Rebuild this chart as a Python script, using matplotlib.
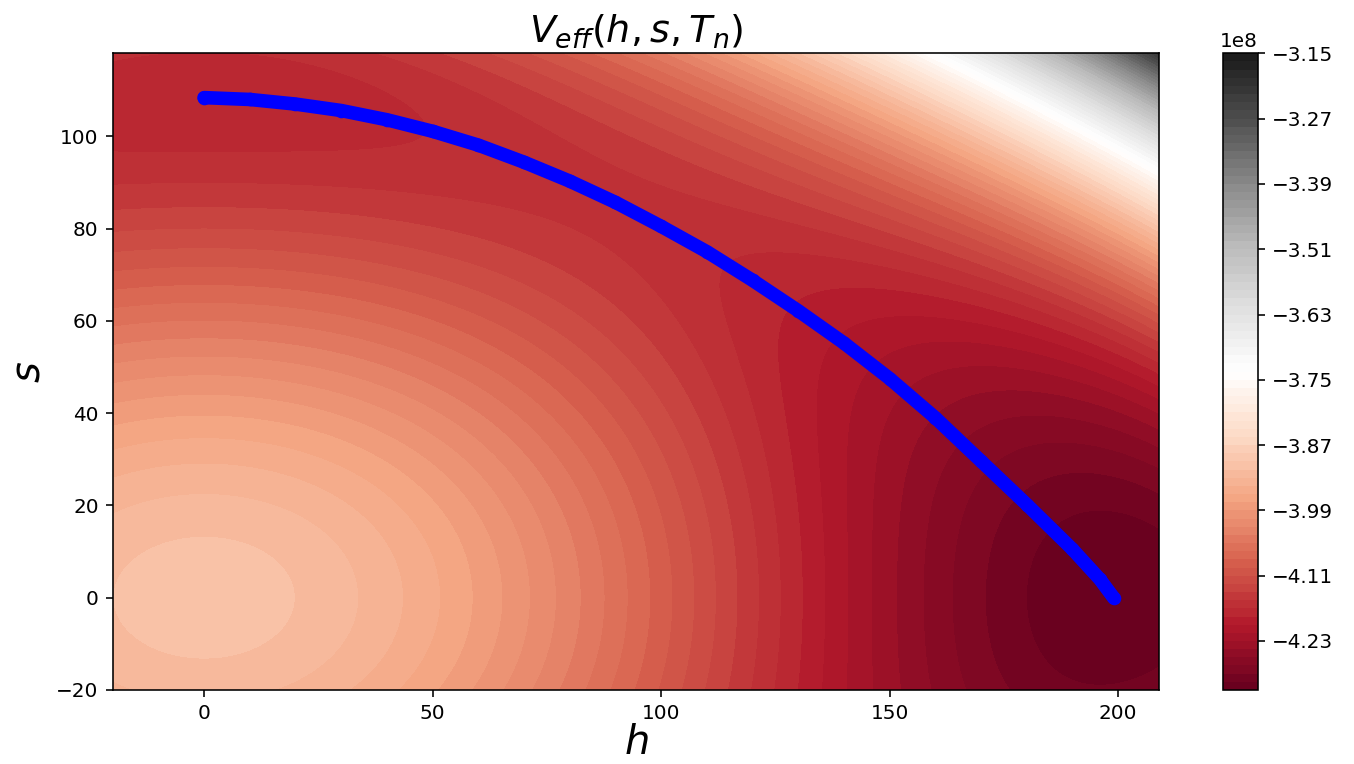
import numpy as np
import matplotlib
matplotlib.use("Agg")
import matplotlib.pyplot as plt

# field range (h, s) and contour levels of V_eff
h_range = [-20, 209]
s_range = [-20, 118]
v_min, v_max, n_levels = -4.32e8, -3.15e8, 79

# coefficients of the effective potential
V0 = -3.907e8
c_h2, c_h4 = -2065.0, 0.02581
c_s2, c_s4 = -4700.0, 0.2015
c_h2s2 = 0.2245

# tunnelling path
path_h = [0, 10, 20, 30, 40, 50, 60, 70, 80, 90, 100, 110,
          120, 130, 140, 150, 160, 170, 180, 190, 196, 199]
path_s = [108.4, 108.0, 107.0, 105.6, 103.6, 101.1, 98.1, 94.4, 90.3, 85.7, 80.5, 75.0,
          68.8, 62.2, 55.2, 47.5, 39.0, 29.6, 20.2, 10.5, 4.0, 0.0]

h = np.linspace(h_range[0], h_range[1], 400)
s = np.linspace(s_range[0], s_range[1], 400)
H, S = np.meshgrid(h, s)
V = (V0 + c_h2 * H**2 + c_h4 * H**4 + c_s2 * S**2 + c_s4 * S**4
     + c_h2s2 * H**2 * S**2)
V = np.clip(V, v_min, v_max)

fig = plt.figure(figsize=(1354 / 144, 764 / 144), dpi=144)
ax = fig.add_axes([0.0832, 0.0969, 0.773, 0.8333])
cax = fig.add_axes([0.9035, 0.0969, 0.0255, 0.8333])

levels = np.linspace(v_min, v_max, n_levels)
cf = ax.contourf(H, S, V, levels=levels, cmap='RdGy')
ax.plot(path_h, path_s, 'o-', color='blue', markersize=6.8, markeredgewidth=0,
        linewidth=6.8, solid_capstyle='round', solid_joinstyle='round')
ax.set_xlim(h_range)
ax.set_ylim(s_range)

ax.set_title(r'$V_{eff}(h,s,T_n)$', fontsize=19)
ax.set_xlabel(r'$h$', fontsize=20, labelpad=0)
ax.set_ylabel(r'$s$', fontsize=20)

fig.colorbar(cf, cax=cax)

fig.savefig('out.png', dpi=144)
